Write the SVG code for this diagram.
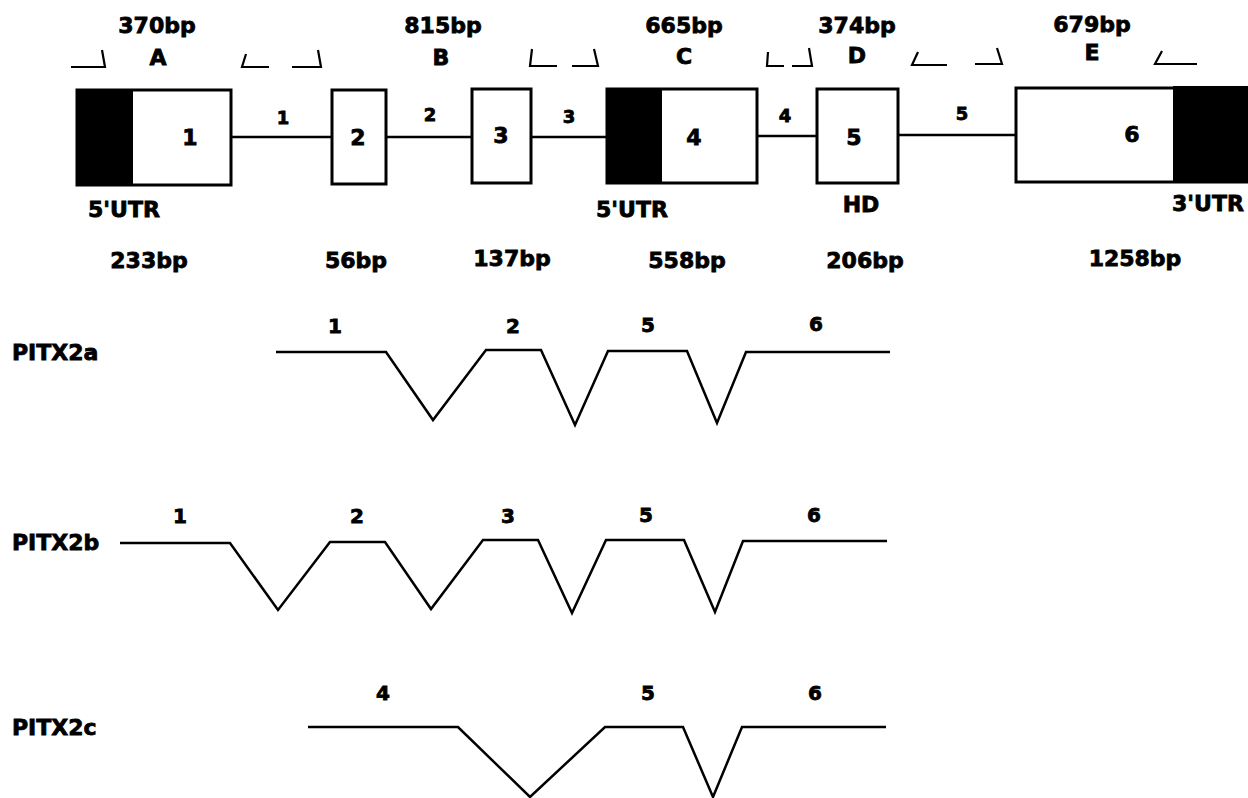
<svg xmlns="http://www.w3.org/2000/svg" width="1248" height="798" viewBox="0 0 1248 798">
<style>
text{font-family:"DejaVu Sans","Liberation Sans",sans-serif;font-weight:bold;fill:#000;stroke:#000;stroke-width:0.8;text-anchor:middle}
.lg{font-size:22px}
.md{font-size:20px}
.sm{font-size:18px}
.st{text-anchor:start}
.box{fill:#fff;stroke:#000;stroke-width:3}
.utr{fill:#000}
.ln{fill:none;stroke:#000;stroke-width:2.5;stroke-linejoin:miter}
.br{fill:none;stroke:#000;stroke-width:2.2}
</style>
<rect width="1248" height="798" fill="#fff"/>

<g id="primers">
<path class="br" d="M71,67 H105 L102,50"/>
<path class="br" d="M246,54 L242,67 H269"/>
<path class="br" d="M292,67 H321 L318,50"/>
<path class="br" d="M532,49 L530,66 H557"/>
<path class="br" d="M572,66 H598 L594,49"/>
<path class="br" d="M768,52 L767,66 H784"/>
<path class="br" d="M792,66 H812 L809,48"/>
<path class="br" d="M918,52 L912,65 H947"/>
<path class="br" d="M975,64 H1002 L997,48"/>
<path class="br" d="M1162,51 L1155,64 H1197"/>
</g>

<g id="primer-labels">
<text class="lg" x="157" y="33">370bp</text>
<text class="lg" x="158" y="65">A</text>
<text class="lg" x="443" y="33">815bp</text>
<text class="lg" x="441" y="65">B</text>
<text class="lg" x="684" y="33">665bp</text>
<text class="lg" x="684" y="64">C</text>
<text class="lg" x="857" y="33">374bp</text>
<text class="lg" x="857" y="63">D</text>
<text class="lg" x="1092" y="32">679bp</text>
<text class="lg" x="1092" y="60">E</text>
</g>

<g id="introns">
<line class="ln" x1="231" y1="137" x2="332" y2="137"/>
<line class="ln" x1="386" y1="137" x2="472" y2="137"/>
<line class="ln" x1="531" y1="137" x2="607" y2="137"/>
<line class="ln" x1="757" y1="136" x2="817" y2="136"/>
<line class="ln" x1="898" y1="135" x2="1016" y2="135"/>
<text class="sm" x="283" y="124">1</text>
<text class="sm" x="430" y="121">2</text>
<text class="sm" x="569" y="123">3</text>
<text class="sm" x="785" y="122">4</text>
<text class="sm" x="962" y="120">5</text>
</g>

<g id="exon1">
<rect class="box" x="77" y="90" width="154" height="95"/>
<rect class="utr" x="77" y="90" width="56" height="95"/>
<text class="lg" x="190" y="145">1</text>
</g>
<g id="exon2">
<rect class="box" x="332" y="90" width="54" height="94"/>
<text class="lg" x="358" y="145">2</text>
</g>
<g id="exon3">
<rect class="box" x="472" y="89" width="59" height="94"/>
<text class="lg" x="501" y="143">3</text>
</g>
<g id="exon4">
<rect class="box" x="607" y="89" width="150" height="94"/>
<rect class="utr" x="607" y="89" width="55" height="94"/>
<text class="lg" x="694" y="145">4</text>
</g>
<g id="exon5">
<rect class="box" x="817" y="89" width="81" height="94"/>
<text class="lg" x="854" y="145">5</text>
</g>
<g id="exon6">
<rect class="box" x="1016" y="88" width="240" height="94"/>
<rect class="utr" x="1173" y="86" width="80" height="96"/>
<text class="lg" x="1132" y="142">6</text>
</g>

<g id="annotations">
<text class="lg" x="124" y="217">5'UTR</text>
<text class="lg" x="632" y="217">5'UTR</text>
<text class="lg" x="861" y="212">HD</text>
<text class="lg st" x="1172" y="211">3'UTR</text>
<text class="lg" x="149" y="268">233bp</text>
<text class="lg" x="356" y="268">56bp</text>
<text class="lg" x="512" y="266">137bp</text>
<text class="lg" x="687" y="268">558bp</text>
<text class="lg" x="865" y="268">206bp</text>
<text class="lg" x="1135" y="266">1258bp</text>
</g>

<g id="PITX2a">
<text class="lg st" x="12" y="360">PITX2a</text>
<path class="ln" d="M276,352 H386 L433,420 L486,350 H541 L575,425 L608,351 H687 L717,423 L746,352 H890"/>
<text class="md" x="335" y="333">1</text>
<text class="md" x="513" y="333">2</text>
<text class="md" x="648" y="332">5</text>
<text class="md" x="816" y="331">6</text>
</g>

<g id="PITX2b">
<text class="lg st" x="12" y="550">PITX2b</text>
<path class="ln" d="M120,543 H230 L278,610 L330,542 H385 L431,609 L483,540 H538 L572,613 L606,540 H684 L715,612 L743,541 H887"/>
<text class="md" x="180" y="523">1</text>
<text class="md" x="357" y="523">2</text>
<text class="md" x="508" y="523">3</text>
<text class="md" x="646" y="522">5</text>
<text class="md" x="814" y="522">6</text>
</g>

<g id="PITX2c">
<text class="lg st" x="12" y="735">PITX2c</text>
<path class="ln" d="M308,727 H458 L530,797 L605,727 H683 L713,797 L742,727 H886"/>
<text class="md" x="383" y="700">4</text>
<text class="md" x="648" y="700">5</text>
<text class="md" x="815" y="700">6</text>
</g>
</svg>
